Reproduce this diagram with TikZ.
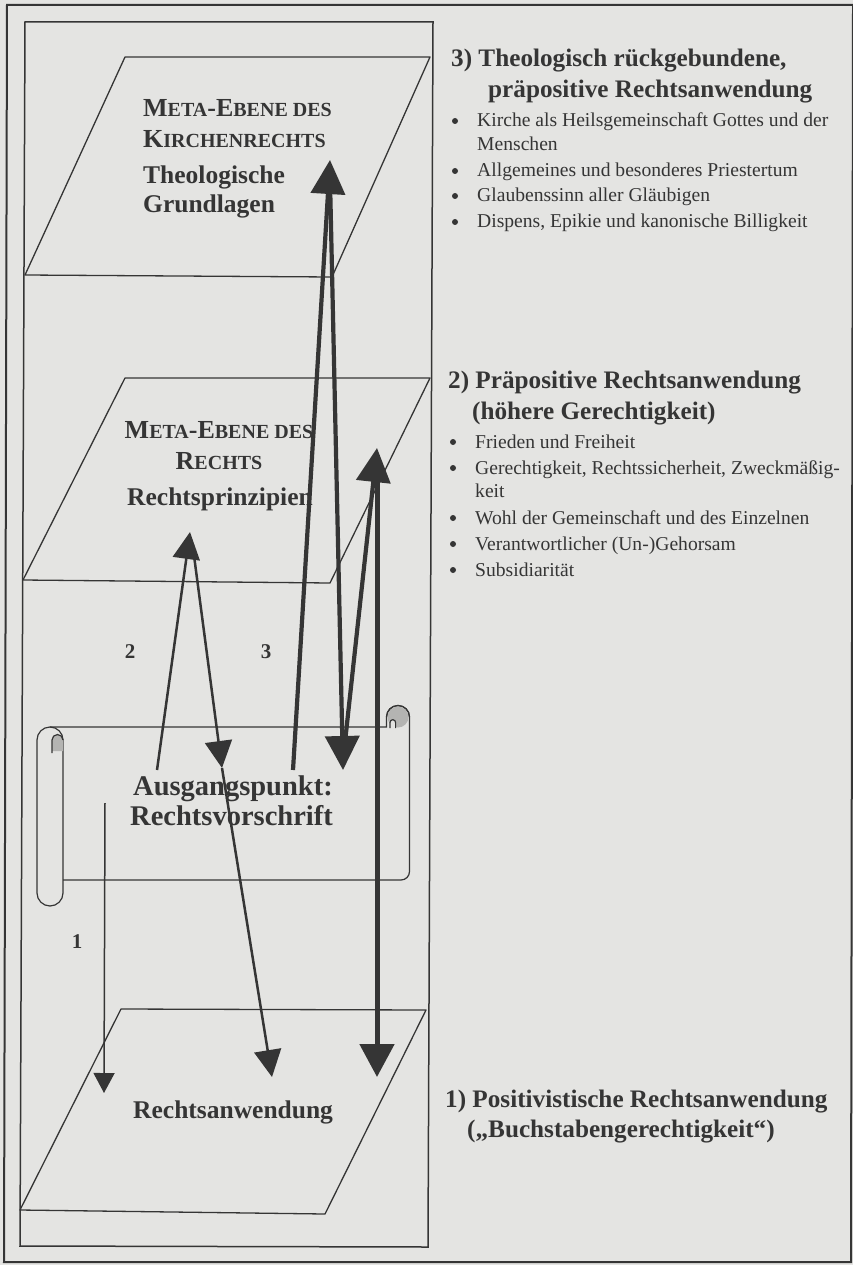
\documentclass[tikz,border=0pt]{standalone}
\usepackage{fontspec}
\setmainfont{Liberation Serif}
\usetikzlibrary{arrows.meta}
\definecolor{paper}{HTML}{E4E4E2}
\definecolor{ink}{HTML}{353535}
\definecolor{rollshade}{HTML}{B4B4B2}
\newcommand\smcp[1]{{\fontsize{20}{24}\selectfont #1}}
\begin{document}
\begin{tikzpicture}[x=1pt,y=-1pt,
  frameline/.style={draw=ink, line width=1.5pt},
  plane/.style={draw=ink, line width=1.3pt, line join=round},
  scrollline/.style={draw=ink, line width=1.2pt},
  lblL/.style={inner sep=0pt, anchor=base west, text=ink, font=\bfseries\fontsize{25.5}{30}\selectfont},
  lblC/.style={inner sep=0pt, anchor=base, text=ink, font=\bfseries\fontsize{25.5}{30}\selectfont},
  meta/.style={inner sep=0pt, text=ink, font=\bfseries\fontsize{26}{30}\selectfont},
  start/.style={inner sep=0pt, anchor=base west, text=ink, font=\bfseries\fontsize{28.5}{32}\selectfont},
  headtxt/.style={inner sep=0pt, anchor=base west, text=ink, font=\bfseries\fontsize{25.2}{30}\selectfont},
  itemtxt/.style={inner sep=0pt, anchor=base west, text=ink, font=\fontsize{19.6}{24}\selectfont},
  numtxt/.style={inner sep=0pt, anchor=base, text=ink, font=\bfseries\fontsize{21}{24}\selectfont},
  bulletdot/.style={circle, fill=ink, inner sep=0pt, minimum size=6pt},
  arrA/.style={draw=ink, line width=1.5pt, -{Triangle[length=20pt,width=21pt]}},
  arrB/.style={draw=ink, line width=2.5pt, -{Triangle[length=27pt,width=27pt]}},
  arrC/.style={draw=ink, line width=4.2pt, -{Triangle[length=34pt,width=34pt]}},
  arrD/.style={draw=ink, line width=5pt, -{Triangle[length=33pt,width=34pt]}},
]
\useasboundingbox (0,0) rectangle (853,1265);
\fill[paper] (0,0) rectangle (853,1265);

% frames
\draw[frameline, line width=2pt] (7,5) -- (853,5) -- (851,1262) -- (4,1262) -- cycle;
\draw[frameline] (25,22) -- (433,22) -- (428,1247) -- (20,1246) -- cycle;

% planes
\draw[plane] (25,275) -- (332,277) -- (430,57) -- (125,57) -- cycle;
\draw[plane] (23,580) -- (330,583) -- (430,378) -- (125,378) -- cycle;
\draw[plane] (20,1210) -- (325,1214) -- (426,1010) -- (121,1009) -- cycle;

% scroll
\draw[scrollline] (50,727) -- (386.5,727) -- (386.5,717)
  arc[start angle=180,end angle=360,radius=11.5] -- (409.5,871.5)
  arc[start angle=0,end angle=90,radius=8.5] -- (63,880);
\fill[rollshade] (398,717) circle[radius=10.5];
\fill[paper] (390,729) -- (390,722.5) arc[start angle=180,end angle=360,radius=2.8] -- (395.6,729) -- cycle;
\draw[scrollline] (390,728) -- (390,722.5) arc[start angle=180,end angle=360,radius=2.8] -- (395.6,728);
\draw[scrollline] (386.5,717) arc[start angle=180,end angle=360,radius=11.5];
\draw[scrollline] (37,740) -- (37,893) arc[start angle=180,end angle=0,radius=13]
  -- (63,740) arc[start angle=0,end angle=-180,radius=13];
\fill[rollshade] (52,751) -- (52,740) arc[start angle=180,end angle=360,radius=5.5] -- (63,751) -- cycle;
\draw[scrollline] (52,753) -- (52,740) arc[start angle=180,end angle=360,radius=5.5];

% plane texts
\node[meta, anchor=base west] (m1a) at (143,117) {M\smcp{ETA}-E\smcp{BENE DES}};
\node[meta, anchor=base west] (m1b) at (143,148) {K\smcp{IRCHENRECHTS}};
\node[lblL] (m1c) at (143,184) {Theologische};
\node[lblL] (m1d) at (143,213) {Grundlagen};

\node[meta, anchor=base] (m2a) at (219,438) {M\smcp{ETA}-E\smcp{BENE DES}};
\node[meta, anchor=base] (m2b) at (219,469) {R\smcp{ECHTS}};
\node[lblC] (m2c) at (220,505) {Rechtsprinzipien};

\node[start] (s1) at (133,795) {Ausgangspunkt:};
\node[start] (s2) at (130,825) {Rechtsvorschrift};

\node[lblL] (r1) at (133,1118) {Rechtsanwendung};

\node[numtxt] (n1) at (77,948) {1};
\node[numtxt] (n2) at (130,658) {2};
\node[numtxt] (n3) at (266,658) {3};

% arrow points
\coordinate (a1s) at (105,803);
\coordinate (a1e) at (104,1093);
\coordinate (b1s) at (157,770);
\coordinate (b1e) at (190,532);
\coordinate (b2s) at (193,548);
\coordinate (b2e) at (222,768);
\coordinate (b3e) at (272,1077);
\coordinate (c1s) at (293,770);
\coordinate (c1e) at (330,160);
\coordinate (c2s) at (330,180);
\coordinate (c2e) at (343,770);
\coordinate (c3s) at (345,742);
\coordinate (c3e) at (377,448);
\coordinate (c4s) at (377,470);
\coordinate (c4e) at (377,1077);

\draw[arrA] (a1s) -- (a1e);
\draw[arrB] (b1s) -- (b1e);
\draw[arrB] (b2s) -- (b2e);
\draw[arrB] (b2e) -- (b3e);
\draw[arrC] (c1s) -- (c1e);
\draw[arrC] (c2s) -- (c2e);
\draw[arrC] (c3s) -- (c3e);
\draw[arrD] (c4s) -- (c4e);

% right texts: block 3
\node[headtxt] (h3a) at (451,67) {3) Theologisch rückgebundene,};
\node[headtxt] (h3b) at (488,98) {präpositive Rechtsanwendung};
\node[bulletdot] (d31) at (455,121) {};
\node[itemtxt] (t31) at (477,127) {Kirche als Heilsgemeinschaft Gottes und der};
\node[itemtxt] (t31b) at (477,151) {Menschen};
\node[bulletdot] (d32) at (455,171) {};
\node[itemtxt] (t32) at (477,177) {Allgemeines und besonderes Priestertum};
\node[bulletdot] (d33) at (455,196) {};
\node[itemtxt] (t33) at (477,202) {Glaubenssinn aller Gläubigen};
\node[bulletdot] (d34) at (455,222) {};
\node[itemtxt] (t34) at (477,228) {Dispens, Epikie und kanonische Billigkeit};

% block 2
\node[headtxt] (h2a) at (448,388) {2) Präpositive Rechtsanwendung};
\node[headtxt] (h2b) at (472,419) {(höhere Gerechtigkeit)};
\node[bulletdot] (d21) at (453,442) {};
\node[itemtxt] (t21) at (475,448) {Frieden und Freiheit};
\node[bulletdot] (d22) at (453,468) {};
\node[itemtxt] (t22) at (475,474) {Gerechtigkeit, Rechtssicherheit, Zweckmäßig-};
\node[itemtxt] (t22b) at (475,497) {keit};
\node[bulletdot] (d23) at (453,518) {};
\node[itemtxt] (t23) at (475,524) {Wohl der Gemeinschaft und des Einzelnen};
\node[bulletdot] (d24) at (453,544) {};
\node[itemtxt] (t24) at (475,550) {Verantwortlicher (Un-)Gehorsam};
\node[bulletdot] (d25) at (453,570) {};
\node[itemtxt] (t25) at (475,576) {Subsidiarität};

% block 1
\node[headtxt] (h1a) at (445,1107) {1) Positivistische Rechtsanwendung};
\node[headtxt] (h1b) at (467,1137) {(„Buchstabengerechtigkeit“)};
\end{tikzpicture}
\end{document}
